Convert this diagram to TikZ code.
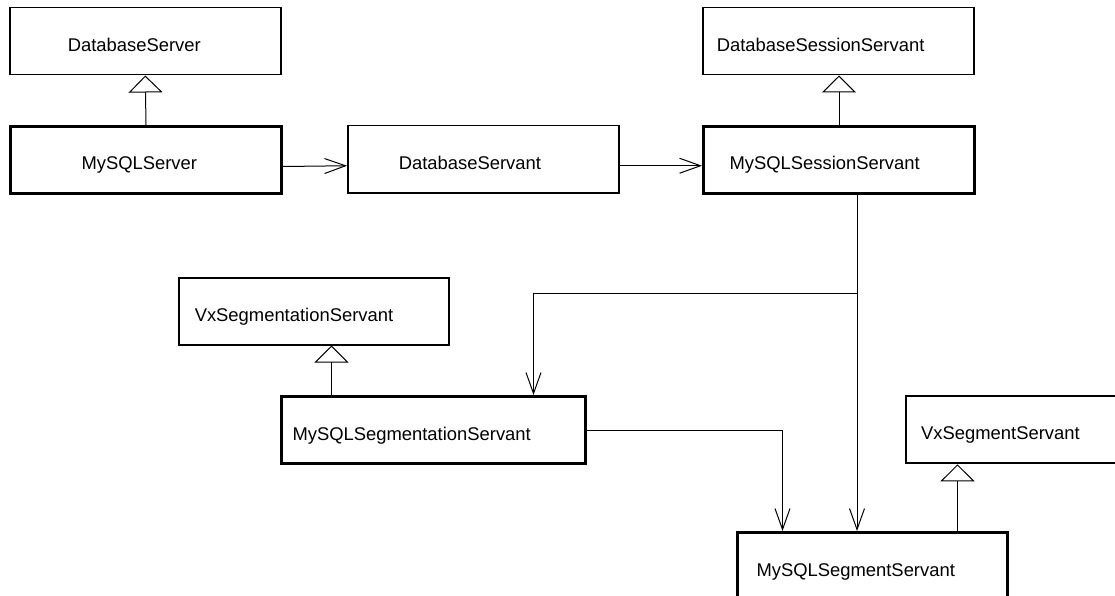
\documentclass[tikz,border=0pt]{standalone}
\usepackage{fontspec}
\setmainfont{Liberation Sans}
\usetikzlibrary{arrows.meta}
\begin{document}
\begin{tikzpicture}[x=1pt,y=-1pt,
  cls/.style={draw, rectangle, anchor=north west, minimum height=67pt, align=left,
    text height=20pt, text depth=0pt, inner ysep=0pt,
    font=\fontsize{18.4}{22}\selectfont},
  thinb/.style={cls, line width=1.5pt},
  thickb/.style={cls, line width=3pt},
  midb/.style={cls, line width=2.3pt},
  assoc/.style={line width=1pt, -{Straight Barb[length=21pt,width=15pt,line width=1pt]}},
  inh/.style={line width=1pt, -{Triangle[open,length=17pt,width=34pt,line width=1pt,fill=white]}}
]
\clip (0,0) rectangle (1115,596);
\fill[white] (0,0) rectangle (1115,596);

% nodes
\node[thinb, text width=155pt, inner xsep=58pt] (ds) at (9,7) {DatabaseServer};
\node[thickb, text width=129pt, inner xsep=71pt] (ms) at (9,125) {MySQLServer};
\node[thinb, text width=169pt, inner xsep=51pt] (dbs) at (347,125) {DatabaseServant};
\node[thinb, text width=243pt, inner xsep=14pt] (dss) at (702,7) {DatabaseSessionServant};
\node[thickb, text width=219pt, inner xsep=26pt] (mss) at (702,125) {MySQLSessionServant};
\node[thinb, text width=238pt, inner xsep=16pt] (vxsg) at (178,277) {VxSegmentationServant};
\node[thickb, text width=282pt, inner xsep=11pt] (msgn) at (280,395) {MySQLSegmentationServant};
\node[midb, text width=241pt, inner xsep=15pt] (vxs) at (905,395) {VxSegmentServant};
\node[thickb, text width=232pt, inner xsep=19pt] (mseg) at (736,531) {MySQLSegmentServant};

\coordinate (j) at (857,293);

% inheritance
\draw[inh] (ms.north) -- (ds.south);
\draw[inh] (mss.north) -- (mss.north |- dss.south);
\draw[inh] ([xshift=-102pt]msgn.north) -- ([xshift=-102pt]msgn.north |- vxsg.south);
\draw[inh] ([xshift=85pt]mseg.north) -- ([xshift=85pt]mseg.north |- vxs.south);

% associations
\draw[assoc] ([yshift=-6.5pt]ms.east) -- ([yshift=-6.5pt]dbs.west);
\draw[assoc] ([yshift=-6.5pt]dbs.east) -- ([yshift=-6.5pt]dbs.east -| mss.west);
\draw[line width=1pt] (mss.south -| j) -- (j);
\draw[assoc] (j) -- (j |- mseg.north);
\draw[assoc] (j) -| ([xshift=100pt]msgn.north);
\draw[assoc] (msgn.east) -| ([xshift=-90pt]mseg.north);
\end{tikzpicture}
\end{document}
